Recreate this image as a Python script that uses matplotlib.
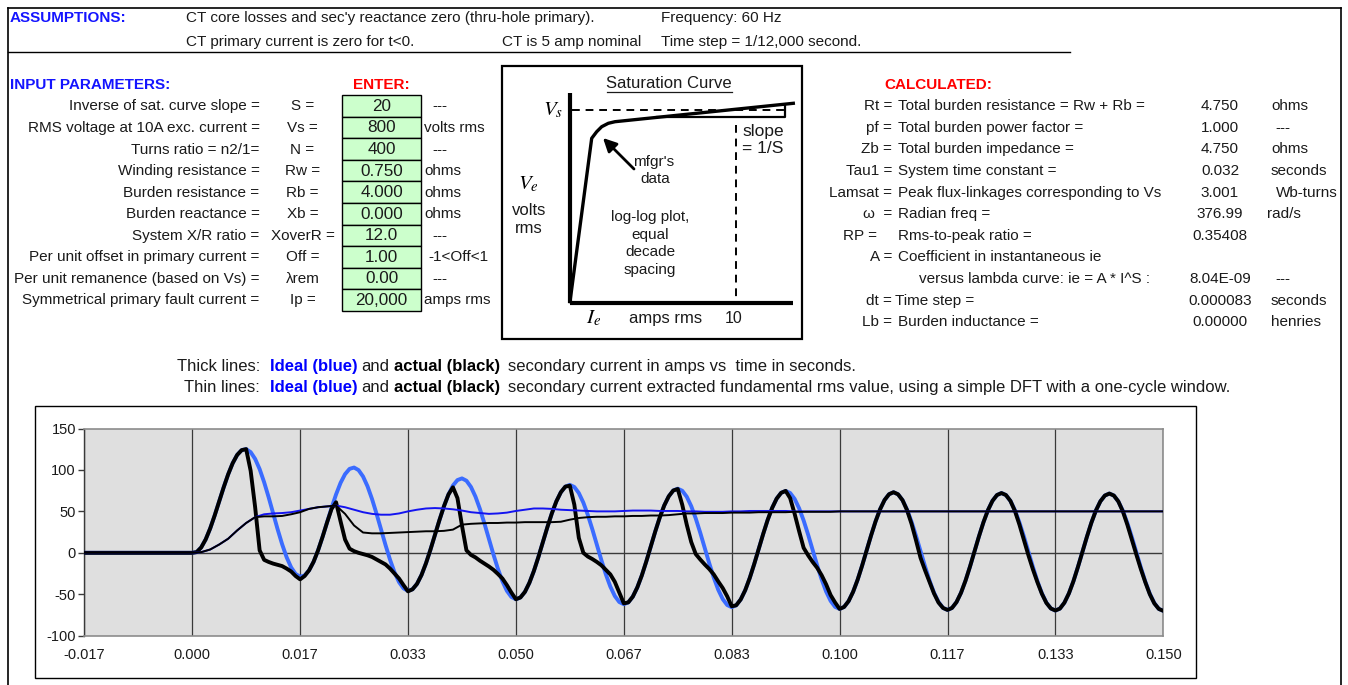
import numpy as np
import matplotlib
matplotlib.use("Agg")
import matplotlib.pyplot as plt
from matplotlib import font_manager
from matplotlib.patches import Rectangle

# ------------------------------------------------------------------ data
FREQ = 60.0
CYCLE = 1.0 / FREQ
T_START = -CYCLE
STEP_INST = CYCLE / 24      # spacing of the thick-line samples
STEP_RMS = CYCLE / 12       # spacing of the thin-line samples

# thick lines: instantaneous secondary current (A)
ideal_inst = [0.0] * 24 + [
    0, 0.9, 6.5, 16.2, 29.4, 45.1, 62.0, 79.0, 94.7, 108.1, 118.1, 123.9,
    125.1, 121.5, 113.3, 101.0, 85.2, 67.1, 47.7, 28.4, 10.4, -5.3, -17.5, -25.5,
    -28.8, -27.3, -21.1, -10.8, 3.0, 19.3, 36.7, 54.3, 70.5, 84.4, 94.9, 101.3,
    102.9, 99.8, 92.1, 80.2, 64.9, 47.2, 28.3, 9.4, -8.3, -23.5, -35.3, -42.9,
    -45.9, -44.0, -37.5, -26.8, -12.6, 3.9, 21.8, 39.6, 56.2, 70.4, 81.2, 87.8,
    89.8, 87.0, 79.5, 67.9, 52.9, 35.4, 16.8, -1.9, -19.3, -34.3, -45.9, -53.3,
    -56.0, -53.9, -47.2, -36.2, -21.9, -5.1, 12.9, 30.9, 47.7, 62.1, 73.1, 79.9,
    82.0, 79.4, 72.1, 60.6, 45.7, 28.4, 9.9, -8.6, -25.9, -40.7, -52.1, -59.4,
    -62.0, -59.8, -52.9, -41.8, -27.4, -10.5, 7.6, 25.8, 42.7, 57.2, 68.2, 75.2,
    77.4, 74.9, 67.7, 56.3, 41.5, 24.3, 5.9, -12.5, -29.7, -44.5, -55.8, -63.0,
    -65.6, -63.3, -56.3, -45.2, -30.6, -13.7, 4.5, 22.7, 39.7, 54.2, 65.4, 72.4,
    74.7, 72.2, 65.0, 53.7, 39.0, 21.9, 3.5, -14.9, -32.0, -46.7, -58.0, -65.2,
    -67.7, -65.3, -58.3, -47.1, -32.6, -15.6, 2.7, 20.9, 37.9, 52.5, 63.7, 70.7,
    73.1, 70.6, 63.5, 52.2, 37.5, 20.4, 2.1, -16.3, -33.4, -48.1, -59.3, -66.5,
    -68.9, -66.5, -59.5, -48.3, -33.7, -16.7, 1.6, 19.9, 36.9, 51.5, 62.7, 69.7,
    72.1, 69.7, 62.6, 51.3, 36.6, 19.6, 1.2, -17.1, -34.2, -48.9, -60.1, -67.2,
    -69.6, -67.3, -60.2, -49.0, -34.4, -17.3, 0.9, 19.2, 36.3, 50.9, 62.1, 69.1,
    71.5, 69.1, 62.0, 50.8, 36.1, 19.0, 0.7, -17.6, -34.7, -49.3, -60.6, -67.7,
    -70.0]

actual_inst = [0.0] * 24 + [
    0, 0.9, 6.5, 16.2, 29.4, 45.1, 62.0, 79.0, 94.7, 108.1, 118.1, 123.9,
    125.1, 99, 55, 3, -8.5, -11, -13, -14.5, -16, -19, -22.5, -28,
    -32, -28, -21.1, -10.8, 3.0, 19.3, 36.7, 53, 61, 38, 16, 5,
    2, 0, -1.5, -3, -5, -8, -11, -14, -19, -25, -31, -39,
    -46.5, -44.0, -37.5, -26.8, -12.6, 3.9, 21.8, 39.6, 56.2, 70.4, 79, 66,
    33, 3, -2.5, -5.5, -9.5, -13, -16.5, -20.5, -25.5, -31, -39, -48,
    -56.0, -53.9, -47.2, -36.2, -21.9, -5.1, 12.9, 30.9, 47.7, 62.1, 73.1, 79.9,
    81, 58, 18, 0, -4.5, -7.5, -11, -15, -20.5, -26, -35, -48,
    -61, -59.8, -52.9, -41.8, -27.4, -10.5, 7.6, 25.8, 42.7, 57.2, 68.2, 75.2,
    77, 58, 34, 13, -1.5, -8, -14, -19.5, -26, -34.5, -42.5, -52.5,
    -64.5, -63.3, -56.3, -45.2, -30.6, -13.7, 4.5, 22.7, 39.7, 54.2, 65.4, 72.4,
    74.7, 66, 47, 26, 6, -3, -11, -18, -27, -38, -51, -60,
    -67.7, -65.3, -58.3, -47.1, -32.6, -15.6, 2.7, 20.9, 37.9, 52.5, 63.7, 70.7,
    73.1, 70.6, 63.5, 51.5, 35, 15, -6, -21, -35, -49, -60, -66.5,
    -68.9, -66.5, -59.5, -48.3, -33.7, -16.7, 1.6, 19.9, 36.9, 51.5, 62.7, 69.7,
    72.1, 69.7, 62.6, 50.5, 34, 15.5, -3, -20, -35.5, -49.5, -60.5, -67.2,
    -69.6, -67.3, -60.2, -49.0, -34.4, -17.3, 0.9, 19.2, 36.3, 50.9, 62.1, 69.1,
    71.5, 69.1, 62.0, 50, 34, 16, -2, -19.5, -35.5, -50, -61, -67.7,
    -70.0]

# thin lines: DFT fundamental rms value (A)
ideal_rms = [0.0] * 12 + [
    0, 0.8, 4, 10, 17, 27, 36, 43, 46.5, 47.5, 48, 49, 51,
    53, 55, 56, 57, 55, 52, 49, 47, 46, 46, 47.5, 50,
    52, 53.5, 54, 53.5, 52.5, 51, 49, 48, 47, 47.5, 48.5, 50.5,
    52, 53.5, 53.5, 53, 52, 51.5, 51, 50.5, 50, 50, 50, 50.5,
    51, 51, 51, 50.5, 50.5, 50.5, 50, 50, 49.5, 49.5, 49.5, 50,
    50, 50.5, 50.5, 50.5, 50.5, 50.5, 50, 50, 50, 50, 50, 50,
    50, 50, 50, 50, 50, 50, 50, 50, 50, 50, 50, 50,
    50, 50, 50, 50, 50, 50, 50, 50, 50, 50, 50, 50,
    50, 50, 50, 50, 50, 50, 50, 50, 50, 50, 50, 50]

actual_rms = [0.0] * 12 + [
    0, 0.8, 4, 10, 17, 27, 36, 43, 44, 44, 44.5, 46.5, 49,
    53, 55, 56, 57, 47, 33, 24.5, 23.5, 23.5, 24, 24.5, 25,
    25.5, 26, 26, 26.5, 28, 34, 35, 35.5, 36, 36, 36.5, 36.5,
    37, 37, 37, 37, 37.5, 40, 42, 43, 43.5, 43.5, 44, 44,
    44.5, 44.5, 45, 45, 45.5, 46.5, 47.5, 47.5, 48, 48, 48, 48.5,
    48.5, 48.5, 49, 49, 49, 49, 49.5, 49.5, 49.5, 49.5, 49.5, 50,
    50, 50, 50, 50, 50, 50, 50, 50, 50, 50, 50, 50,
    50, 50, 50, 50, 50, 50, 50, 50, 50, 50, 50, 50,
    50, 50, 50, 50, 50, 50, 50, 50, 50, 50, 50, 50]

x_tick_values = [k / FREQ for k in range(-1, 10)]
x_tick_labels = ["-0.017", "0.000", "0.017", "0.033", "0.050", "0.067",
                 "0.083", "0.100", "0.117", "0.133", "0.150"]
y_tick_values = [-100, -50, 0, 50, 100, 150]
y_tick_labels = ["-100", "-50", "0", "50", "100", "150"]

input_labels = ["Inverse of sat. curve slope =", "RMS voltage at 10A exc. current =",
                "Turns ratio = n2/1=", "Winding resistance =", "Burden resistance =",
                "Burden reactance =", "System X/R ratio =",
                "Per unit offset in primary current =",
                "Per unit remanence (based on Vs) =",
                "Symmetrical primary fault current ="]
input_symbols = ["S =", "Vs =", "N =", "Rw =", "Rb =", "Xb =", "XoverR =",
                 "Off =", "\u03bbrem", "Ip ="]
input_values = ["20", "800", "400", "0.750", "4.000", "0.000", "12.0", "1.00",
                "0.00", "20,000"]
input_units = ["---", "volts rms", "---", "ohms", "ohms", "ohms", "---",
               "-1<Off<1", "---", "amps rms"]

calc_symbols = ["Rt =", "pf =", "Zb =", "Tau1 =", "Lamsat =", "\u03c9  =", "RP =",
                "A =", "", "dt =", "Lb ="]
calc_desc = ["Total burden resistance = Rw + Rb =", "Total burden power factor =",
             "Total burden impedance =", "System time constant =",
             "Peak flux-linkages corresponding to Vs", "Radian freq =",
             "Rms-to-peak ratio =", "Coefficient in instantaneous ie",
             "versus lambda curve: ie = A * I^S :", "Time step =",
             "Burden inductance ="]
calc_values = ["4.750", "1.000", "4.750", "0.032", "3.001", "376.99", "0.35408",
               "", "8.04E-09", "0.000083", "0.00000"]
calc_units = ["ohms", "---", "ohms", "seconds", "Wb-turns", "rad/s", "", "",
              "---", "seconds", "henries"]

# ------------------------------------------------------------------ style
plt.rcParams["font.family"] = ["Liberation Sans", "DejaVu Sans"]
plt.rcParams["mathtext.fontset"] = "stix"
plt.rcParams["axes.unicode_minus"] = False
TXT = "#1a1a1a"
BLUE_HEAD = "#1414ff"
RED_HEAD = "#ff0000"
FS = 11

W, H = 1348, 685
fig = plt.figure(figsize=(W / 100, H / 100), dpi=100)
fig.patch.set_facecolor("white")
bg = fig.add_axes([0, 0, 1, 1])
bg.set_xlim(0, W)
bg.set_ylim(H, 0)
bg.axis("off")


def txt(x, y, s, ha="left", size=FS, color=TXT, weight="normal", **kw):
    return bg.text(x, y, s, ha=ha, va="center", fontsize=size, color=color,
                   fontweight=weight, **kw)


def has_font(name):
    try:
        font_manager.findfont(font_manager.FontProperties(family=name),
                              fallback_to_default=False)
        return True
    except Exception:
        return False


# page frame
bg.plot([8, 8], [8, H], color="black", lw=1.2)
bg.plot([8, 1341], [8, 8], color="black", lw=1.2)
bg.plot([1341, 1341], [8, H], color="black", lw=1.2)
bg.plot([8, 1070], [52, 52], color="black", lw=1.0)

# assumptions
txt(10, 18, "ASSUMPTIONS:", color=BLUE_HEAD, weight="bold")
txt(186, 18, "CT core losses and sec'y reactance zero (thru-hole primary).")
txt(186, 42, "CT primary current is zero for t<0.")
txt(502, 42, "CT is 5 amp nominal")
txt(661, 18, "Frequency: 60 Hz")
txt(661, 42, "Time step = 1/12,000 second.")

# input parameters
txt(10, 85, "INPUT PARAMETERS:", color=BLUE_HEAD, weight="bold")
txt(381.7, 85, "ENTER:", ha="center", color=RED_HEAD, weight="bold")
ROW0, ROWH, BOX0 = 106.4, 21.56, 95.2
for i in range(len(input_labels)):
    y = ROW0 + i * ROWH
    txt(259.5, y, input_labels[i], ha="right")
    txt(302.5, y, input_symbols[i], ha="center")
    bg.add_patch(Rectangle((342.3, BOX0 + i * ROWH), 78.7, ROWH,
                           facecolor="#ccffcc", edgecolor="black", lw=1.0))
    txt(381.7, y, input_values[i], ha="center", size=12.3)
    ux = 432 if input_units[i] == "---" else (428 if input_units[i].startswith("-1") else 424)
    txt(ux, y, input_units[i])

# calculated
txt(884, 85, "CALCULATED:", color=RED_HEAD, weight="bold")
unit_x = {"ohms": 1271, "---": 1275, "seconds": 1271, "Wb-turns": 1276,
          "rad/s": 1267, "henries": 1271, "": 1271}
for i in range(len(calc_desc)):
    y = 106.2 + i * 21.6
    if calc_symbols[i]:
        sx = 877 if calc_symbols[i] == "RP =" else 892
        txt(sx, y, calc_symbols[i], ha="right")
    dx = 919 if calc_desc[i].startswith("versus") else (895 if calc_symbols[i] == "dt =" else 898)
    txt(dx, y, calc_desc[i])
    if calc_values[i]:
        txt(1220, y, calc_values[i], ha="center")
    if calc_units[i]:
        txt(unit_x[calc_units[i]], y, calc_units[i])

# saturation curve sketch
bg.add_patch(Rectangle((502, 66), 300, 273, fill=False, edgecolor="black", lw=1.6))
txt(669, 83, "Saturation Curve", ha="center", size=12)
bg.plot([607, 732], [91.5, 91.5], color=TXT, lw=0.9)
sat_x = [570, 591.7, 596.7, 601.7, 608.3, 615, 793.3]
sat_y = [301.7, 138.3, 131.7, 126.7, 123.3, 121.7, 103.3]
bg.plot([570, 570], [93, 303.3], color="black", lw=3.0, solid_capstyle="butt")
bg.plot([570, 793.3], [303.3, 303.3], color="black", lw=3.0, solid_capstyle="butt")
bg.plot(sat_x, sat_y, color="black", lw=2.4, solid_joinstyle="round")
bg.plot([572, 785], [110, 110], color="black", lw=1.4, dashes=(4, 3))
bg.plot([735.7, 735.7], [125, 302], color="black", lw=1.4, dashes=(4, 3))
bg.plot([657, 785, 785], [117.3, 117.3, 104.5], color="black", lw=1.6)
bg.annotate("", xy=(603, 138), xytext=(634, 169),
            arrowprops=dict(arrowstyle="-|>", lw=2.0, color="black",
                            mutation_scale=20, shrinkA=0, shrinkB=0))
txt(553, 110, r"$V_s$", ha="center", size=15, color="black")
txt(528, 184, r"$V_e$", ha="center", size=15, color="black")
txt(529, 210, "volts", ha="center", size=12)
txt(529, 228, "rms", ha="center", size=12)
txt(594, 318, r"$I_e$", ha="center", size=15, color="black")
txt(665.5, 318, "amps rms", ha="center", size=12)
txt(734, 318, "10", ha="center", size=11.5)
txt(763, 131.5, "slope", ha="center", size=12.5)
txt(763, 148.5, "= 1/S", ha="center", size=12.5)
txt(654, 162, "mfgr's", ha="center", size=11)
txt(655, 178.5, "data", ha="center", size=11)
txt(650, 216.5, "log-log plot,", ha="center", size=11)
txt(650, 235, "equal", ha="center", size=11)
txt(650, 252, "decade", ha="center", size=11)
txt(650, 269.5, "spacing", ha="center", size=11)

# caption lines (condensed font)
narrow = "Liberation Sans Narrow" if has_font("Liberation Sans Narrow") else "Liberation Sans"
renderer = fig.canvas.get_renderer()
probe = bg.text(0, 0, "secondary current extracted fundamental rms value, using a "
                "simple DFT with a one-cycle window.", fontsize=11, family=narrow)
cap_fs = 11 * 718.0 / probe.get_window_extent(renderer).width
probe.remove()
for y, lead, tail in [(366, "Thick lines:", "secondary current in amps vs  time in seconds."),
                      (387.5, "Thin lines:", "secondary current extracted fundamental rms value, "
                                              "using a simple DFT with a one-cycle window.")]:
    txt(260, y, lead, ha="right", size=cap_fs, family=narrow)
    txt(270, y, "Ideal (blue)", size=cap_fs, family=narrow, weight="bold", color="#0000ff")
    txt(361.5, y, "and", size=cap_fs, family=narrow)
    txt(394, y, "actual (black)", size=cap_fs, family=narrow, weight="bold", color="black")
    txt(507.5, y, tail, size=cap_fs, family=narrow)

# chart box
bg.add_patch(Rectangle((35, 406), 1161, 272, facecolor="white", edgecolor="black", lw=1.0))

# ------------------------------------------------------------------ chart
L, R, T, B = 84.3, 1163.3, 428.5, 635.7
ax = fig.add_axes([L / W, 1 - B / H, (R - L) / W, (B - T) / H])
ax.set_facecolor("#dfdfdf")
ax.set_xlim(T_START, 9 * CYCLE)
ax.set_ylim(-100, 150)

t_inst = T_START + STEP_INST * np.arange(len(ideal_inst))
t_rms = T_START + STEP_RMS * np.arange(len(ideal_rms))

ax.axhline(0, color="#3a3a3a", lw=1.0, zorder=2)
ax.plot(t_inst, ideal_inst, color="#3b6cff", lw=2.8, solid_joinstyle="round", zorder=3)
ax.plot(t_inst, actual_inst, color="black", lw=2.8, solid_joinstyle="round", zorder=4)
ax.plot(t_rms, ideal_rms, color="#1414f0", lw=1.4, solid_joinstyle="round", zorder=5)
ax.plot(t_rms, actual_rms, color="black", lw=1.4, solid_joinstyle="round", zorder=6)

ax.set_xticks(x_tick_values)
ax.set_xticklabels(x_tick_labels)
ax.set_yticks(y_tick_values)
ax.set_yticklabels(y_tick_labels)
ax.grid(axis="x", color="#3a3a3a", lw=0.9, zorder=1)
ax.set_axisbelow(True)
ax.tick_params(axis="x", length=0, pad=9, labelsize=10.5, labelcolor=TXT)
ax.tick_params(axis="y", direction="out", length=4, width=1, color="#3a3a3a",
               pad=2, labelsize=10.5, labelcolor=TXT)
for side in ["top", "right", "bottom"]:
    ax.spines[side].set_color("#8c8c8c")
    ax.spines[side].set_linewidth(1.2)
ax.spines["left"].set_color("#3a3a3a")
ax.spines["left"].set_linewidth(1.0)

fig.savefig("out.png", dpi=100, facecolor="white")
